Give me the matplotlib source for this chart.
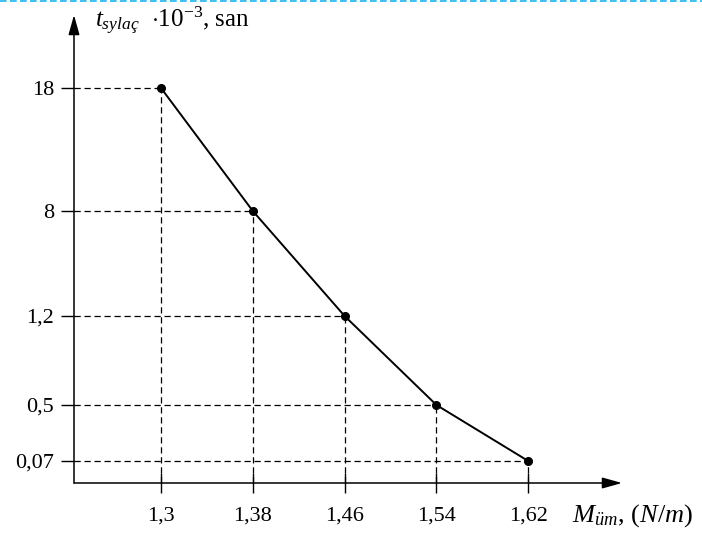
import numpy as np
import matplotlib.pyplot as plt
from matplotlib.lines import Line2D

moment = [1.3, 1.38, 1.46, 1.54, 1.62]
t_work = [18, 8, 1.2, 0.5, 0.07]
x_labels = ["1,3", "1,38", "1,46", "1,54", "1,62"]
y_labels = ["18", "8", "1,2", "0,5", "0,07"]

plt.rcParams['font.family'] = 'Liberation Serif'
plt.rcParams['mathtext.fontset'] = 'custom'
plt.rcParams['mathtext.rm'] = 'Liberation Serif'
plt.rcParams['mathtext.it'] = 'Liberation Serif:italic'

# the y axis is drawn by hand: tick heights in px above the x axis
tick_px = [22, 78, 167, 272, 395]
axis_h = 468
lv = np.log10(sorted(t_work))
k_lo = (tick_px[1] - tick_px[0]) / (lv[1] - lv[0])
k_hi = (tick_px[-1] - tick_px[-2]) / (lv[-1] - lv[-2])
L = np.concatenate([[lv[0] - 5], lv, [lv[-1] + 5]])
P = np.concatenate([[tick_px[0] - 5 * k_lo], tick_px, [tick_px[-1] + 5 * k_hi]])

def fwd(v):
    return np.interp(np.log10(np.clip(v, 1e-9, None)), L, P)

def inv(p):
    return 10 ** np.interp(p, P, L)

fig = plt.figure(figsize=(7.02, 5.35), dpi=100)
ax = fig.add_axes([74 / 702, 52 / 535, 548 / 702, axis_h / 535])
ax.set_yscale('function', functions=(fwd, inv))
x0, x1 = 1.2242, 1.7017
y0, y1 = inv(0), inv(axis_h)
ax.set_xlim(x0, x1)
ax.set_ylim(y0, y1)

for s in ax.spines.values():
    s.set_visible(False)

arrow = dict(arrowstyle='-|>,head_length=1.0,head_width=0.28', color='black',
             lw=1.1, mutation_scale=12, shrinkA=0, shrinkB=0)
ax.annotate('', xy=(1, 0), xytext=(0, 0), xycoords='axes fraction', arrowprops=arrow)
ax.annotate('', xy=(0, 1), xytext=(0, 0), xycoords='axes fraction', arrowprops=arrow)

ax.hlines(t_work, x0, moment, colors='black', linestyles=(0, (5, 3)), lw=0.9)
ax.vlines(moment, y0, t_work, colors='black', linestyles=(0, (5, 3)), lw=0.9)
ax.plot(moment, t_work, '-', color='black', lw=1.4)
ax.plot(moment, t_work, 'o', color='black', ms=5.5)

ax.set_xticks(moment, x_labels)
ax.set_yticks(t_work, y_labels)
ax.minorticks_off()
ax.tick_params(axis='y', direction='out', length=9.5, width=1, pad=5, labelsize=16)
ax.tick_params(axis='x', direction='inout', length=14.5, width=1, pad=10, labelsize=16)

fig.text(95 / 702, 1 - 21 / 535, r"$t_{sylaç}$  $\cdot 10^{-3}$, san", fontsize=18, va='center')
fig.text(572 / 702, 1 - 516 / 535, r"$M_{üm}$, $(N/m)$", fontsize=19, va='center')

fig.add_artist(Line2D([0, 1], [0.999, 0.999], transform=fig.transFigure,
                      color='#1EB4F0', lw=1.2, linestyle=(0, (4, 2))))

fig.savefig('out.png', dpi=100)
